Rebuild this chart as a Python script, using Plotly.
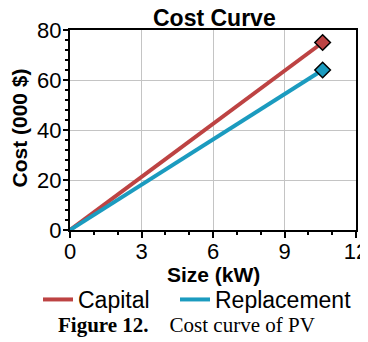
import plotly.graph_objects as go

size_kw = [0, 10.6]
capital = [0, 75]
replacement = [0, 64]
x_ticks = [0, 3, 6, 9, 12]
y_ticks = [0, 20, 40, 60, 80]

RED = "#BD4343"
BLUE = "#1B9BBF"
FONT = "Liberation Sans, Arial, sans-serif"
# page body has an 8px margin, so the figure is drawn 8px in from the corner
W, H = 360, 334
L, R, T, B = 62, 12, 22, 112
PW, PH = W - L - R, H - T - B


def px_x(x):
    return (x - L) / PW


def px_y(y):
    return (H - B - y) / PH


fig = go.Figure()
fig.add_trace(go.Scatter(x=size_kw, y=capital, mode="lines", name="Capital",
                         line=dict(color=RED, width=4), legend="legend"))
fig.add_trace(go.Scatter(x=size_kw, y=replacement, mode="lines", name="Replacement",
                         line=dict(color=BLUE, width=4), legend="legend2"))
fig.add_trace(go.Scatter(x=[size_kw[-1]], y=[capital[-1]], mode="markers", showlegend=False,
                         marker=dict(symbol="diamond", size=12, color=RED,
                                     line=dict(color="black", width=1.5))))
fig.add_trace(go.Scatter(x=[size_kw[-1]], y=[replacement[-1]], mode="markers", showlegend=False,
                         marker=dict(symbol="diamond", size=12, color=BLUE,
                                     line=dict(color="black", width=1.5))))

leg_common = dict(orientation="h", xref="container", xanchor="left",
                  yref="container", y=1 - 270 / H, yanchor="top",
                  font=dict(size=23), itemwidth=30, bgcolor="rgba(0,0,0,0)")

fig.update_layout(
    width=W, height=H,
    margin=dict(l=L, r=R, t=T, b=B, autoexpand=False),
    paper_bgcolor="white", plot_bgcolor="white",
    font=dict(family=FONT, size=21, color="black"),
    showlegend=True,
    legend=dict(x=30 / W, **leg_common),
    legend2=dict(x=167 / W, **leg_common),
    xaxis=dict(range=[0, 12], tickvals=x_ticks, ticktext=[str(v) for v in x_ticks],
               automargin=False, ticklabeloverflow="allow",
               showgrid=True, gridcolor="#C4C4C4", gridwidth=1.2,
               showline=True, linecolor="black", linewidth=2, mirror=True,
               ticks="outside", ticklen=6, tickwidth=2, tickcolor="black",
               minor=dict(dtick=1, ticks="outside", ticklen=3, tickwidth=2, tickcolor="black", showgrid=False),
               zeroline=False, ticklabelstandoff=-5,
               tickfont=dict(size=22)),
    yaxis=dict(range=[0, 80], tickvals=y_ticks, ticktext=[str(v) for v in y_ticks],
               automargin=False, ticklabeloverflow="allow",
               showgrid=True, gridcolor="#C4C4C4", gridwidth=1.2,
               showline=True, linecolor="black", linewidth=2, mirror=True,
               ticks="outside", ticklen=5, tickwidth=2, tickcolor="black",
               minor=dict(dtick=4, ticks="outside", ticklen=3, tickwidth=2, tickcolor="black", showgrid=False),
               zeroline=False, ticklabelstandoff=-3,
               tickfont=dict(size=22)),
)

fig.add_annotation(text="<b>Cost Curve</b>", xref="paper", yref="paper",
                   x=px_x(206), y=px_y(10), xanchor="center", yanchor="middle",
                   showarrow=False, font=dict(size=23))
fig.add_annotation(text="<b>Size (kW)</b>", xref="paper", yref="paper",
                   x=px_x(205), y=px_y(266), xanchor="center", yanchor="middle",
                   showarrow=False, font=dict(size=21))
fig.add_annotation(text="<b>Cost (000 $)</b>", xref="paper", yref="paper", textangle=-90,
                   x=px_x(10.5), y=px_y(120), xanchor="center", yanchor="middle",
                   showarrow=False, font=dict(size=21))
fig.add_annotation(text="<b>Figure 12.</b>&nbsp;&nbsp;&nbsp; Cost curve of PV",
                   xref="paper", yref="paper", x=px_x(178), xanchor="center",
                   y=px_y(317), yanchor="middle", showarrow=False,
                   font=dict(family="Liberation Serif, Times New Roman, serif", size=21, color="black"))

fig.write_html("out.html")
